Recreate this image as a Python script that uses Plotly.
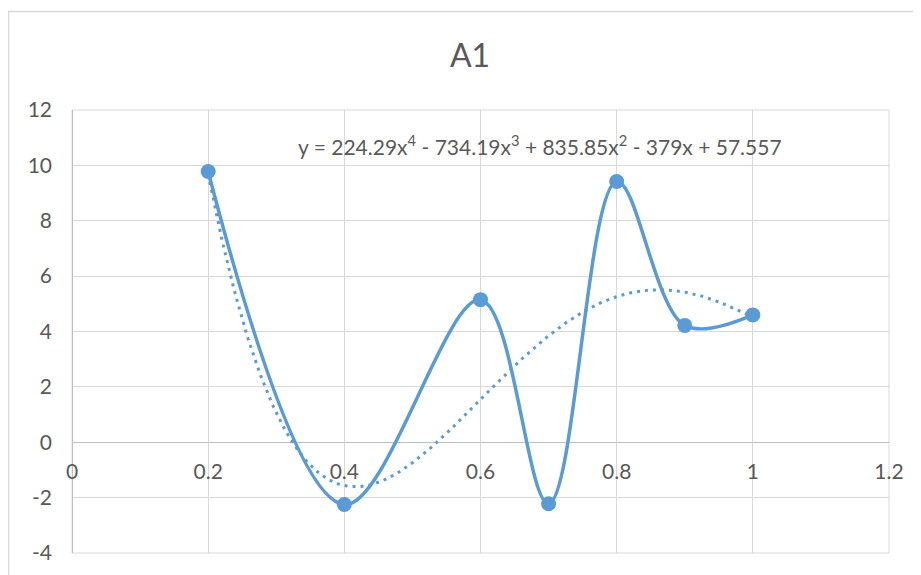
import numpy as np
import plotly.graph_objects as go

# Data
x_vals = [0.2, 0.4, 0.6, 0.7, 0.8, 0.9, 1.0]
y_vals = [9.78, -2.25, 5.15, -2.22, 9.42, 4.22, 4.6]
title_text = "A1"
equation_text = "y = 224.29x<sup>4</sup> - 734.19x<sup>3</sup> + 835.85x<sup>2</sup> - 379x + 57.557"
x_ticks = [0, 0.2, 0.4, 0.6, 0.8, 1.0, 1.2]
x_ticklabels = ["0", "0.2", "0.4", "0.6", "0.8", "1", "1.2"]
y_ticks = [-4, -2, 0, 2, 4, 6, 8, 10, 12]
y_ticklabels = ["-4", "-2", "0", "2", "4", "6", "8", "10", "12"]

# Polynomial (order 4) trendline fitted to the data, as Excel does
coef = np.polyfit(x_vals, y_vals, 4)
tx = np.linspace(min(x_vals), max(x_vals), 300)
ty = np.polyval(coef, tx)

BLUE = "#5B9BD5"
GRID = "#D9D9D9"
AXIS = "#BFBFBF"
TEXT = "#595959"
FONT = "Lato, 'Open Sans', Arial, sans-serif"

fig = go.Figure()
fig.add_trace(go.Scatter(
    x=tx, y=ty, mode="lines",
    line=dict(color=BLUE, width=3, dash="3px,5px"),
    hoverinfo="skip", showlegend=False,
))
fig.add_trace(go.Scatter(
    x=x_vals, y=y_vals, mode="lines+markers",
    line=dict(color=BLUE, width=3.5, shape="spline", smoothing=1.0),
    marker=dict(color=BLUE, size=15),
    showlegend=False,
))

# page offset: the figure div sits 8px in from the page corner
OFF = 8
W, H = 921 - OFF, 575 - OFF
L, R, T, B = 72 - OFF, 889 - OFF, 110 - OFF, 553 - OFF
fig.update_layout(
    width=W, height=H,
    margin=dict(l=L, r=W - R, t=T, b=H - B, pad=0),
    paper_bgcolor="white", plot_bgcolor="white",
    font=dict(family=FONT, color=TEXT, size=21),
    title=dict(text=title_text, x=(470 - OFF) / W, xanchor="center",
               y=1 - (56 - OFF) / H, yanchor="middle", yref="container",
               font=dict(size=32, color=TEXT, family=FONT)),
    xaxis=dict(range=[0, 1.2], tickvals=x_ticks, ticktext=x_ticklabels,
               showgrid=True, gridcolor=GRID, gridwidth=1,
               zeroline=True, zerolinecolor=AXIS, zerolinewidth=1,
               showline=False, ticks="",
               anchor="free", position=0.25, ticklabelstandoff=15,
               tickfont=dict(size=21, color=TEXT)),
    yaxis=dict(range=[-4, 12], tickvals=y_ticks, ticktext=y_ticklabels,
               showgrid=True, gridcolor=GRID, gridwidth=1,
               zeroline=True, zerolinecolor=AXIS, zerolinewidth=1,
               showline=False, ticks="", ticklabelstandoff=19,
               tickfont=dict(size=21, color=TEXT)),
    annotations=[dict(text=equation_text, xref="paper", yref="paper",
                      x=(540 - 72) / (889 - 72), y=(553 - 145) / (553 - 110),
                      xanchor="center", yanchor="middle", showarrow=False,
                      font=dict(size=21, color=TEXT, family=FONT))],
    shapes=[
        # chart frame
        dict(type="rect", xref="paper", yref="paper",
             x0=(8 - 72 + 0.5) / (R - L), x1=1.2, y0=-0.2,
             y1=1 + (110 - 11.5) / (B - T),
             line=dict(color=GRID, width=1.5), layer="below"),
        # plot area border (outer gridlines)
        dict(type="rect", xref="paper", yref="paper", x0=0, x1=1, y0=0, y1=1,
             line=dict(color=GRID, width=1), layer="below"),
    ],
)

fig.write_html("out.html")
